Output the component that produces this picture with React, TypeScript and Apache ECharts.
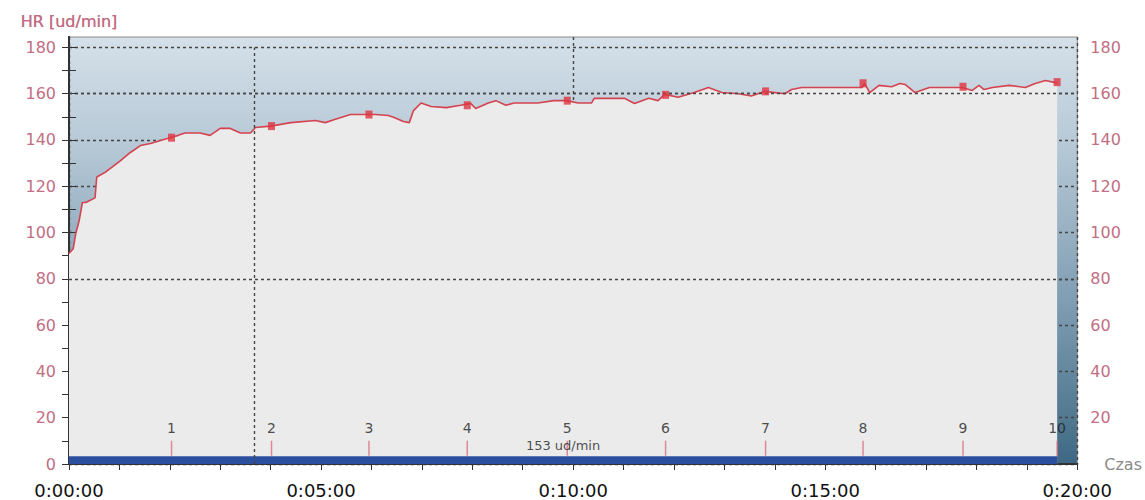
import React, { useEffect, useRef } from "react";
import * as echarts from "echarts";

// Heart-rate trace: time in seconds and HR in ud/min
const timeSec = [
  0, 5, 8, 12, 16, 20, 31, 33, 43, 61, 73, 85, 97, 109, 120, 130, 138, 156, 168,
  180, 192, 204, 216, 222, 240, 264, 293, 305, 317, 335, 353, 365, 380, 387, 398,
  405, 410, 419, 431, 449, 466, 478, 484, 499, 508, 520, 530, 558, 577, 592, 606,
  622, 625, 661, 673, 690, 701, 709, 725, 744, 761, 777, 797, 812, 828, 852, 860,
  872, 944, 947, 953, 964, 979, 989, 995, 1007, 1024, 1063, 1075, 1083, 1089,
  1099, 1119, 1138, 1150, 1162, 1174, 1176,
];
const heartRate = [
  91, 93, 99.5, 105, 113, 113, 115, 124, 126, 131, 134.6, 137.6, 138.5, 139.8,
  141, 142, 143, 143, 142, 145, 145, 143, 143, 145.4, 146, 147.5, 148.4, 147.5,
  149, 151, 151, 151, 150.6, 149.7, 148, 147.5, 152.7, 156, 154.5, 154, 155,
  155.8, 153.6, 156, 157, 155, 156, 156, 157, 157, 156, 156, 158, 158, 155.8,
  158, 157, 159.7, 158.5, 160.5, 162.7, 160.5, 160, 159, 161, 160, 161.8, 162.7,
  162.7, 164.4, 160.5, 163.6, 163, 164.4, 164, 160.5, 162.7, 162.7, 161.4, 163.6,
  161.8, 162.7, 163.6, 162.7, 164.4, 165.7, 164.8, 164.5,
];

// Laps
const lapTimeSec = [122, 241, 357, 474, 593, 710, 829, 945, 1064, 1176];
const lapHeartRate = [141, 146, 151, 155, 157, 159.5, 161, 164.5, 163, 165];
const lapLabels = ["1", "2", "3", "4", "5", "6", "7", "8", "9", "10"];

// Reference lines and annotations
const zoneLimits = [80, 160];
const cursorSec = 221;
const avgText = "153 ud/min";
const yName = "HR [ud/min]";
const xName = "Czas";

const X_MAX = 1200;
const Y_MAX = 184.5;
const Y_TOP_TICK = 180;
const LAP_TICK_Y = 6.8;
const BAR_Y = 3.3;
const AVG_Y = 7.8;

const fmtTime = (sec: number) => {
  const h = Math.floor(sec / 3600);
  const m = Math.floor((sec % 3600) / 60);
  const s = Math.floor(sec % 60);
  return `${h}:${String(m).padStart(2, "0")}:${String(s).padStart(2, "0")}`;
};

const FONT = "DejaVu Sans";
const PINK = "#c26e84";
const DASH_COLOR = "#454545";
const DASH = { color: DASH_COLOR, width: 1.4, type: [3, 3] as number[] };

export default function App() {
  const ref = useRef<HTMLDivElement>(null);

  useEffect(() => {
    if (!ref.current) return;
    const chart = echarts.init(ref.current, undefined, { renderer: "svg" });
    const hrData = timeSec.map((t, i) => [t, heartRate[i]]);
    const endSec = timeSec[timeSec.length - 1];

    const tickVals: number[] = [];
    for (let v = 0; v <= Y_TOP_TICK; v += 10) tickVals.push(v);
    const labelValsLeft = tickVals.filter((v) => v % 20 === 0);
    const labelValsRight = labelValsLeft.filter((v) => v > 0);
    // split lines follow the ticks (every 10): show only every 20
    const splitColors = [
      ...tickVals.map((v) => (v % 20 === 0 ? DASH_COLOR : "rgba(0,0,0,0)")),
      "rgba(0,0,0,0)",
    ];

    const yAxisCommon = (pos: "left" | "right") => ({
      type: "value",
      position: pos,
      min: 0,
      max: Y_MAX,
      interval: 20,
      name: yName,
      nameLocation: "end",
      nameGap: 8,
      nameTextStyle: { color: PINK, fontSize: 16, fontFamily: FONT },
      axisLine: { show: true, lineStyle: { color: "#333", width: 2 } },
      axisTick: {
        show: true,
        length: 7,
        customValues: tickVals,
        lineStyle: { color: "#333" },
      },
      axisLabel: {
        color: PINK,
        fontSize: 16,
        fontFamily: FONT,
        margin: 13,
        customValues: pos === "left" ? labelValsLeft : labelValsRight,
        formatter: (v: number) => String(v),
      },
      splitLine:
        pos === "left"
          ? { show: true, lineStyle: { ...DASH, color: splitColors } }
          : { show: false },
    });

    chart.setOption({
      animation: false,
      grid: {
        left: 69,
        right: 67,
        top: 37,
        bottom: 36,
        show: true,
        borderColor: "#8a8a8a",
        borderWidth: 1,
        backgroundColor: new echarts.graphic.LinearGradient(0, 0, 0, 1, [
          { offset: 0, color: "#d5e0e9" },
          { offset: 0.24, color: "#b8cad7" },
          { offset: 0.62, color: "#7f9db3" },
          { offset: 0.9, color: "#50788f" },
          { offset: 1, color: "#3d6784" },
        ]),
      },
      xAxis: [
        {
          type: "value",
          position: "bottom",
          min: 0,
          max: X_MAX,
          interval: 300,
          name: xName,
          nameLocation: "end",
          nameGap: 27,
          nameTextStyle: {
            color: "#8a8a8a",
            fontSize: 16,
            fontFamily: FONT,
            padding: [8, 0, 0, 0],
          },
          axisLine: { show: true, lineStyle: { color: "#333", width: 2 } },
          axisTick: { show: true, length: 6, lineStyle: { color: "#333" } },
          minorTick: { show: true, splitNumber: 5, length: 6, lineStyle: { color: "#333" } },
          axisLabel: {
            color: "#111",
            fontSize: 18,
            fontFamily: FONT,
            margin: 17,
            formatter: (v: number) => fmtTime(v),
          },
          splitLine: { show: false },
        },
        {
          type: "value",
          position: "top",
          min: 0,
          max: X_MAX,
          interval: 600,
          axisLine: { show: false },
          axisTick: { show: false },
          axisLabel: { show: false },
          splitLine: { show: true, lineStyle: DASH },
        },
      ],
      yAxis: [yAxisCommon("left"), yAxisCommon("right")],
      series: [
        {
          type: "line",
          data: hrData,
          symbol: "none",
          z: 2,
          lineStyle: { color: "#d4434f", width: 1.6 },
          areaStyle: { color: "#ebebeb", opacity: 1 },
        },
        {
          type: "line",
          data: [
            [0, BAR_Y],
            [endSec, BAR_Y],
          ],
          symbol: "none",
          z: 3,
          lineStyle: { width: 0, color: "#2c4f9f" },
          areaStyle: { color: "#2c4f9f", opacity: 1 },
        },
        {
          type: "line",
          data: [],
          z: 4,
          markLine: {
            silent: true,
            symbol: "none",
            label: { show: false },
            lineStyle: DASH,
            data: [
              ...zoneLimits.map((v) => ({ yAxis: v })),
              [
                { coord: [cursorSec, 0] },
                { coord: [cursorSec, Y_TOP_TICK] },
              ],
            ],
          },
        },
        {
          type: "scatter",
          z: 5,
          data: lapTimeSec.map((t) => [t, LAP_TICK_Y]),
          symbol: "rect",
          symbolSize: [1.5, 15],
          itemStyle: { color: "#d9707f" },
          label: {
            show: true,
            position: "top",
            distance: 6,
            color: "#222",
            fontSize: 14,
            fontFamily: FONT,
            formatter: (p: any) => lapLabels[p.dataIndex],
          },
        },
        {
          type: "scatter",
          z: 6,
          data: lapTimeSec.map((t, i) => [t, lapHeartRate[i]]),
          symbol: "rect",
          symbolSize: [7, 8],
          itemStyle: { color: "#de3440" },
        },
        {
          type: "scatter",
          z: 6,
          data: [[endSec / 2, AVG_Y]],
          symbolSize: 0,
          label: {
            show: true,
            position: "inside",
            color: "#222",
            fontSize: 13,
            fontFamily: FONT,
            formatter: avgText,
          },
        },
      ],
    });

    return () => chart.dispose();
  }, []);

  return (
    <div
      ref={ref}
      style={{ position: "fixed", left: 0, top: 0, width: 1145, height: 500, background: "#fff" }}
    />
  );
}
